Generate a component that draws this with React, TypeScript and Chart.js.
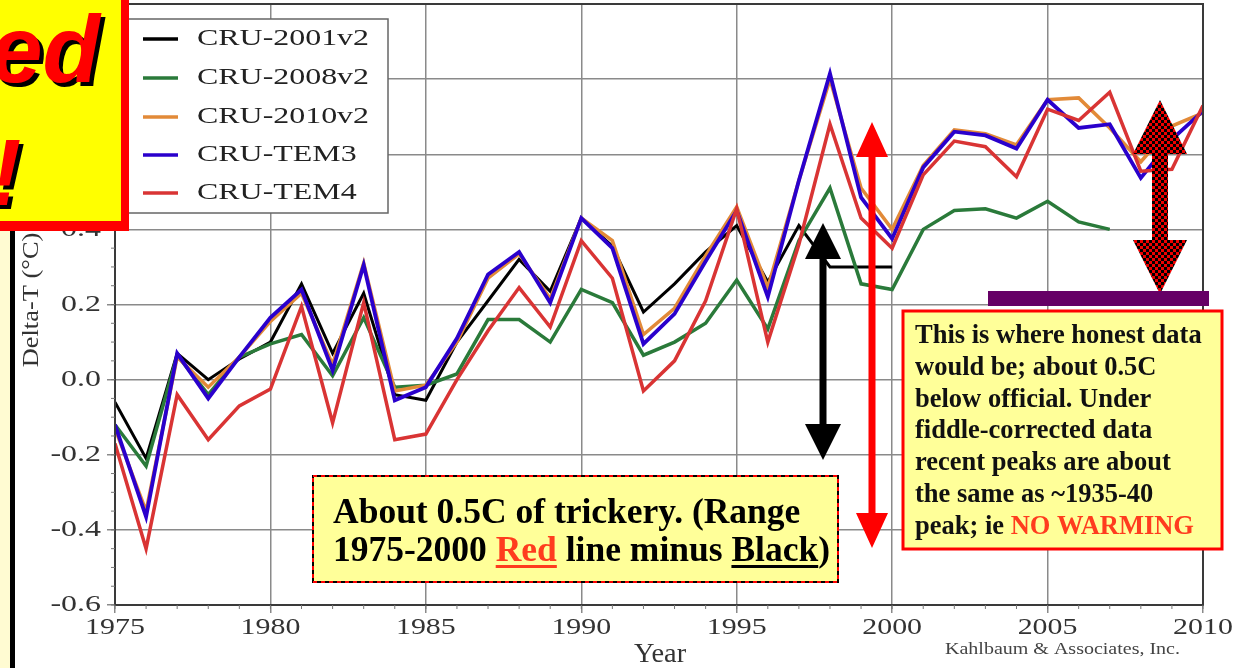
import React, { useEffect, useRef } from "react";
import { Chart, registerables } from "chart.js";

Chart.register(...registerables);

// ---------------- DATA ----------------
const years = [
  1975, 1976, 1977, 1978, 1979, 1980, 1981, 1982, 1983, 1984, 1985, 1986,
  1987, 1988, 1989, 1990, 1991, 1992, 1993, 1994, 1995, 1996, 1997, 1998,
  1999, 2000, 2001, 2002, 2003, 2004, 2005, 2006, 2007, 2008, 2009, 2010,
];

const cru2001v2 = [
  -0.06, -0.21, 0.07, 0.0, 0.055, 0.1, 0.255, 0.07, 0.23, -0.04, -0.055, 0.1,
  0.21, 0.32, 0.235, 0.43, 0.355, 0.18, 0.255, 0.34, 0.41, 0.26, 0.41, 0.3,
  0.3, 0.3,
];

const cru2008v2 = [
  -0.12, -0.23, 0.065, -0.04, 0.06, 0.095, 0.12, 0.01, 0.165, -0.02, -0.015,
  0.015, 0.16, 0.16, 0.1, 0.24, 0.205, 0.065, 0.1, 0.15, 0.265, 0.135, 0.37,
  0.51, 0.255, 0.24, 0.4, 0.45, 0.455, 0.43, 0.475, 0.42, 0.4,
];

const cru2010v2 = [
  -0.13, -0.35, 0.06, -0.02, 0.06, 0.155, 0.23, 0.04, 0.31, -0.03, -0.015,
  0.1, 0.27, 0.335, 0.215, 0.43, 0.37, 0.12, 0.19, 0.33, 0.46, 0.245, 0.53,
  0.8, 0.51, 0.4, 0.57, 0.665, 0.655, 0.625, 0.745, 0.75, 0.67, 0.58, 0.675,
  0.71,
];

const cruTem3 = [
  -0.12, -0.365, 0.07, -0.05, 0.06, 0.165, 0.24, 0.025, 0.305, -0.055, -0.02,
  0.11, 0.28, 0.34, 0.205, 0.43, 0.35, 0.095, 0.175, 0.315, 0.45, 0.22, 0.53,
  0.815, 0.485, 0.375, 0.565, 0.66, 0.65, 0.615, 0.745, 0.67, 0.68, 0.537,
  0.64, 0.715,
];

const cruTem4 = [
  -0.17, -0.45, -0.04, -0.16, -0.07, -0.025, 0.195, -0.115, 0.205, -0.16,
  -0.145, 0.0, 0.13, 0.245, 0.14, 0.37, 0.27, -0.03, 0.05, 0.21, 0.455, 0.1,
  0.36, 0.68, 0.43, 0.35, 0.545, 0.635, 0.62, 0.54, 0.72, 0.69, 0.765, 0.555,
  0.56, 0.73,
];

const seriesNames = ["CRU-2001v2", "CRU-2008v2", "CRU-2010v2", "CRU-TEM3", "CRU-TEM4"];
const seriesValues = [cru2001v2, cru2008v2, cru2010v2, cruTem3, cruTem4];
const seriesColors = ["#000000", "#2a7a3a", "#e28a38", "#2a00cc", "#d93434"];
const seriesWidths = [3, 3.5, 3.5, 3.8, 3.5];
const seriesOrder = [5, 4, 3, 2, 1];

const xMin = 1975;
const xMax = 2010;
const xStep = 5;
const yMin = -0.6;
const yMax = 1.0;
const yStep = 0.2;

const xTitle = "Year";
const yTitle = "Delta-T (°C)";
const creditText = "Kahlbaum & Associates, Inc.";

const box1Line1 = "About 0.5C of trickery. (Range";
const box1Line2 = ["1975-2000 ", "Red", " line minus ", "Black", ")"];

const box2Lines = [
  "This is where honest data",
  "would be; about 0.5C",
  "below official. Under",
  "fiddle-corrected data",
  "recent peaks are about",
  "the same as ~1935-40",
];
const box2Last = ["peak; ie ", "NO WARMING"];

const bannerLine1 = "ed";
const bannerLine2 = "!";

// ---------------- HELPERS ----------------
function sText(
  ctx: CanvasRenderingContext2D,
  text: string,
  x: number,
  y: number,
  font: string,
  color: string,
  sx: number,
  align: "left" | "center" | "right"
) {
  ctx.save();
  ctx.font = font;
  ctx.fillStyle = color;
  ctx.textBaseline = "middle";
  ctx.textAlign = "left";
  const w = ctx.measureText(text).width * sx;
  const left = align === "left" ? x : align === "center" ? x - w / 2 : x - w;
  ctx.translate(left, y);
  ctx.scale(sx, 1);
  ctx.fillText(text, 0, 0);
  ctx.restore();
}

function doubleArrow(
  ctx: CanvasRenderingContext2D,
  cx: number,
  top: number,
  bottom: number,
  shaftW: number,
  headW: number,
  headL: number,
  fill: string | CanvasPattern
) {
  ctx.save();
  ctx.beginPath();
  ctx.moveTo(cx, top);
  ctx.lineTo(cx + headW / 2, top + headL);
  ctx.lineTo(cx + shaftW / 2, top + headL);
  ctx.lineTo(cx + shaftW / 2, bottom - headL);
  ctx.lineTo(cx + headW / 2, bottom - headL);
  ctx.lineTo(cx, bottom);
  ctx.lineTo(cx - headW / 2, bottom - headL);
  ctx.lineTo(cx - shaftW / 2, bottom - headL);
  ctx.lineTo(cx - shaftW / 2, top + headL);
  ctx.lineTo(cx - headW / 2, top + headL);
  ctx.closePath();
  ctx.fillStyle = fill as any;
  ctx.fill();
  ctx.restore();
}

const SERIF = "'Liberation Serif', 'DejaVu Serif', serif";

export default function App() {
  const canvasRef = useRef<HTMLCanvasElement | null>(null);

  useEffect(() => {
    const canvas = canvasRef.current;
    if (!canvas) return;

    const datasets = seriesNames.map((name, i) => ({
      label: name,
      data: seriesValues[i].map((v, j) => ({ x: years[j], y: v })),
      borderColor: seriesColors[i],
      backgroundColor: seriesColors[i],
      borderWidth: seriesWidths[i],
      pointRadius: 0,
      tension: 0,
      fill: false,
      order: seriesOrder[i],
    }));

    const decorPlugin = {
      id: "decor",
      beforeDraw(chart: any) {
        const ctx = chart.ctx as CanvasRenderingContext2D;
        ctx.save();
        ctx.fillStyle = "#ffffff";
        ctx.fillRect(0, 0, chart.width, chart.height);
        ctx.restore();
      },
      afterDraw(chart: any) {
        const ctx = chart.ctx as CanvasRenderingContext2D;
        const ca = chart.chartArea;
        const xs = chart.scales.x;
        const ys = chart.scales.y;

        // frame
        ctx.save();
        ctx.strokeStyle = "#3a3a3a";
        ctx.lineWidth = 2;
        ctx.strokeRect(ca.left, ca.top, ca.right - ca.left, ca.bottom - ca.top);

        // minor ticks
        ctx.strokeStyle = "#777";
        ctx.lineWidth = 1;
        for (let yr = xMin; yr <= xMax; yr++) {
          const px = xs.getPixelForValue(yr);
          ctx.beginPath();
          ctx.moveTo(px, ca.bottom);
          ctx.lineTo(px, ca.bottom + 4);
          ctx.stroke();
        }
        for (let k = 0; k <= Math.round((yMax - yMin) / 0.05); k++) {
          const py = ys.getPixelForValue(yMin + k * 0.05);
          ctx.beginPath();
          ctx.moveTo(ca.left, py);
          ctx.lineTo(ca.left - 4, py);
          ctx.stroke();
        }
        ctx.restore();

        // tick labels from the scales
        xs.ticks.forEach((t: any) => {
          const px = xs.getPixelForValue(t.value);
          sText(ctx, String(t.value), px, 628, `23px ${SERIF}`, "#333", 1.3, "center");
        });
        ys.ticks.forEach((t: any) => {
          const py = ys.getPixelForValue(t.value);
          sText(ctx, Number(t.value).toFixed(1), 101, py, `24px ${SERIF}`, "#333", 1.33, "right");
        });

        // axis titles
        sText(ctx, xTitle, 660, 655, `27px ${SERIF}`, "#333", 1.05, "center");
        ctx.save();
        ctx.translate(32, 300);
        ctx.rotate(-Math.PI / 2);
        sText(ctx, yTitle, 0, 0, `23px ${SERIF}`, "#333", 1.15, "center");
        ctx.restore();
        ctx.save();
        ctx.font = `16px ${SERIF}`;
        const cw = ctx.measureText(creditText).width;
        ctx.restore();
        sText(ctx, creditText, 945, 650, `16px ${SERIF}`, "#444", 235 / cw, "left");

        // legend
        ctx.save();
        ctx.fillStyle = "#ffffff";
        ctx.fillRect(128, 19, 260, 194);
        ctx.strokeStyle = "#666";
        ctx.lineWidth = 1.5;
        ctx.strokeRect(128, 19, 260, 194);
        const rowsY = [39, 78, 117, 155, 193];
        seriesNames.forEach((name, i) => {
          ctx.strokeStyle = seriesColors[i];
          ctx.lineWidth = 3.5;
          ctx.beginPath();
          ctx.moveTo(143, rowsY[i]);
          ctx.lineTo(178, rowsY[i]);
          ctx.stroke();
          sText(ctx, name, 197, rowsY[i], `24px ${SERIF}`, "#222", 1.33, "left");
        });
        ctx.restore();

        // arrows
        doubleArrow(ctx, 823, 223, 460, 7, 36, 36, "#000000");
        doubleArrow(ctx, 872, 122, 548, 7, 32, 35, "#ff0000");

        const pc = document.createElement("canvas");
        pc.width = 6;
        pc.height = 6;
        const p = pc.getContext("2d")!;
        p.fillStyle = "#000000";
        p.fillRect(0, 0, 6, 6);
        p.fillStyle = "#ee0000";
        p.fillRect(0, 0, 3, 3);
        p.fillRect(3, 3, 3, 3);
        const pattern = ctx.createPattern(pc, "repeat")!;
        doubleArrow(ctx, 1160, 100, 294, 16, 54, 54, pattern);

        // purple bar
        ctx.save();
        ctx.fillStyle = "#660066";
        ctx.fillRect(988, 291, 221, 15);
        ctx.restore();

        // note box 1
        ctx.save();
        ctx.fillStyle = "#ffff99";
        ctx.fillRect(313, 476, 525, 106);
        ctx.strokeStyle = "#000";
        ctx.lineWidth = 2;
        ctx.strokeRect(313, 476, 525, 106);
        ctx.strokeStyle = "#ff0000";
        ctx.setLineDash([4, 4]);
        ctx.strokeRect(313, 476, 525, 106);
        ctx.setLineDash([]);
        ctx.font = `bold 35.5px ${SERIF}`;
        ctx.textBaseline = "alphabetic";
        ctx.textAlign = "left";
        ctx.fillStyle = "#000";
        ctx.fillText(box1Line1, 333, 523);
        let bx = 333;
        const by = 561;
        box1Line2.forEach((seg, i) => {
          const w = ctx.measureText(seg).width;
          const isRed = i === 1;
          const underline = i === 1 || i === 3;
          ctx.fillStyle = isRed ? "#ff3c1e" : "#000";
          ctx.fillText(seg, bx, by);
          if (underline) {
            ctx.fillRect(bx, by + 4, w, 3);
          }
          bx += w;
        });
        ctx.restore();

        // note box 2
        ctx.save();
        ctx.fillStyle = "#ffff99";
        ctx.fillRect(903, 311, 319, 238);
        ctx.strokeStyle = "#ff0000";
        ctx.lineWidth = 3;
        ctx.strokeRect(903, 311, 319, 238);
        ctx.font = `bold 26.5px ${SERIF}`;
        ctx.textBaseline = "alphabetic";
        ctx.textAlign = "left";
        ctx.fillStyle = "#111";
        box2Lines.forEach((ln, i) => {
          ctx.fillText(ln, 915, 343 + i * 31.8);
        });
        const lastY = 343 + 6 * 31.8;
        ctx.fillText(box2Last[0], 915, lastY);
        const w0 = ctx.measureText(box2Last[0]).width;
        ctx.fillStyle = "#ff3c1e";
        ctx.fillText(box2Last[1], 915 + w0, lastY);
        ctx.restore();

        // left strip
        ctx.save();
        ctx.fillStyle = "#fffbd2";
        ctx.fillRect(0, 225, 10, chart.height - 225);
        ctx.fillStyle = "#000";
        ctx.fillRect(10, 225, 5, chart.height - 225);
        // top-left banner
        ctx.fillStyle = "#ff0000";
        ctx.fillRect(0, 0, 129, 231);
        ctx.fillStyle = "#ffff00";
        ctx.fillRect(0, 0, 121, 221);
        ctx.beginPath();
        ctx.rect(0, 0, 121, 221);
        ctx.clip();
        ctx.font = `italic bold 94px 'Liberation Sans', Arial, sans-serif`;
        ctx.textBaseline = "alphabetic";
        ctx.textAlign = "right";
        ctx.fillStyle = "#000";
        ctx.fillText(bannerLine1, 104, 86);
        ctx.fillStyle = "#ff0000";
        ctx.fillText(bannerLine1, 100, 82);
        ctx.textAlign = "left";
        ctx.fillStyle = "#000";
        ctx.fillText(bannerLine2, -6, 209);
        ctx.fillStyle = "#ff0000";
        ctx.fillText(bannerLine2, -10, 205);
        ctx.restore();
      },
    };

    const chart = new Chart(canvas, {
      type: "line",
      data: { datasets: datasets as any },
      options: {
        animation: false,
        responsive: false,
        devicePixelRatio: 1,
        layout: { padding: { top: 4, right: 51, left: 0, bottom: 0 } },
        plugins: {
          legend: { display: false },
          tooltip: { enabled: false },
        },
        scales: {
          x: {
            type: "linear",
            min: xMin,
            max: xMax,
            ticks: { stepSize: xStep, display: false },
            grid: { color: "#8a8a8a", lineWidth: 1.5, tickLength: 8, drawTicks: true },
            border: { color: "#3a3a3a", width: 2 },
            afterFit: (s: any) => {
              s.height = 63;
              s.paddingLeft = 0;
              s.paddingRight = 0;
            },
          },
          y: {
            type: "linear",
            min: yMin,
            max: yMax,
            ticks: { stepSize: yStep, display: false },
            grid: { color: "#8a8a8a", lineWidth: 1.5, tickLength: 8, drawTicks: true },
            border: { color: "#3a3a3a", width: 2 },
            afterFit: (s: any) => {
              s.width = 115;
              s.paddingTop = 0;
              s.paddingBottom = 0;
            },
          },
        },
      },
      plugins: [decorPlugin],
    });

    return () => {
      chart.destroy();
    };
  }, []);

  return (
    <div
      style={{
        position: "fixed",
        left: 0,
        top: 0,
        width: 1254,
        height: 668,
        background: "#fff",
        overflow: "hidden",
      }}
    >
      <canvas ref={canvasRef} width={1254} height={668} style={{ display: "block" }} />
    </div>
  );
}
